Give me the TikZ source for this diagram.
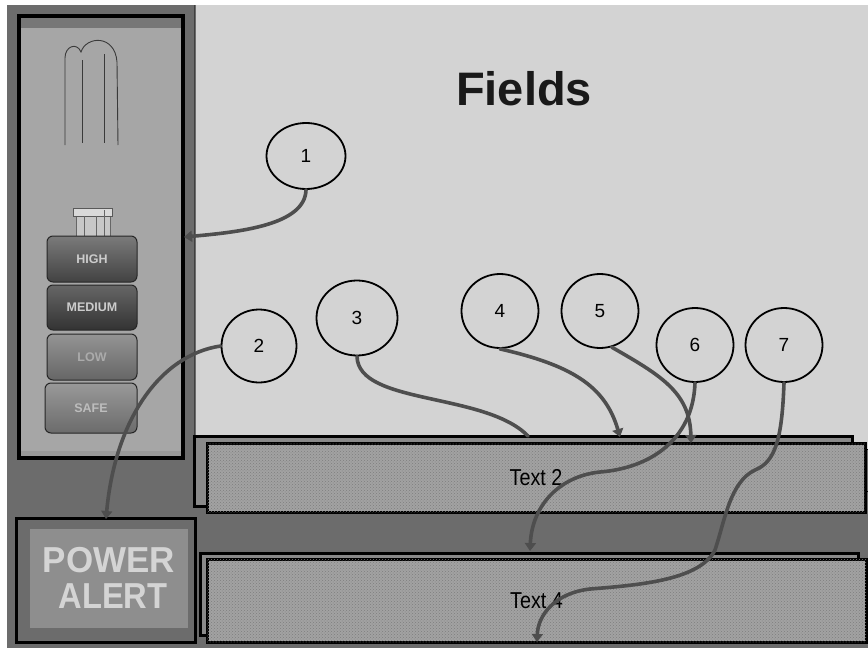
\documentclass[tikz,border=0pt]{standalone}
\usepackage{fontspec}
\setmainfont{Liberation Sans}
\usetikzlibrary{shapes.geometric,arrows.meta,patterns}

\definecolor{bgdark}{HTML}{6C6C6C}
\definecolor{lightbg}{HTML}{D3D3D3}
\definecolor{panelfill}{HTML}{A6A6A6}
\definecolor{panelstrip}{HTML}{777777}
\definecolor{boxback}{HTML}{8A8A8A}
\definecolor{boxfront}{HTML}{A2A2A2}
\definecolor{boxdots}{HTML}{7E7E7E}
\definecolor{connc}{HTML}{4E4E4E}
\definecolor{bulbline}{HTML}{3A3A3A}
\definecolor{alertfill}{HTML}{8E8E8E}

\tikzset{
  bubble/.style={ellipse, draw=black, line width=1.8pt, fill=lightbg,
    minimum width=77pt, minimum height=74pt, inner sep=0pt,
    font=\fontsize{19}{19}\selectfont},
  conn/.style={draw=connc, line width=3.6pt, line cap=round},
  tipped/.style={-{Triangle[length=8pt,width=11pt]}},
  backbox/.style={rectangle, draw=black, line width=3pt, fill=boxback, inner sep=0pt},
  frontbox/.style={rectangle, draw=black, line width=3pt, fill=boxfront,
    postaction={pattern=crosshatch dots, pattern color=boxdots},
    inner sep=0pt, font=\fontsize{23}{23}\selectfont},
  btn/.style={rectangle, draw=black!85, line width=1pt, rounded corners=6pt,
    inner sep=0pt, minimum width=90pt,
    font=\bfseries\fontsize{12.5}{12.5}\selectfont},
}

\begin{document}
\begin{tikzpicture}[x=1pt,y=-1pt]
  \useasboundingbox (0,0) rectangle (868,648);

  % page background and work area
  \fill[white] (0,0) rectangle (868,648);
  \fill[bgdark] (7,5) rectangle (868,648);
  \fill[lightbg] (196,5) rectangle (868,440);
  \fill[lightbg] (850,436) rectangle (868,449);
  \draw[black, line width=1.5pt] (862,449.5) -- (868,449.5);
  \draw[black, line width=1.5pt] (862,491.5) -- (868,491.5);
  \draw[black!75, line width=1.6pt] (194.5,5) -- (194.5,436);

  % left control panel
  \node[rectangle, draw=black, line width=3.5pt, fill=panelfill,
        minimum width=164pt, minimum height=442pt, inner sep=0pt]
        (panel) at (101,237) {};
  \fill[panelstrip] (21,18) rectangle (181,28);
  \fill[black!40] (21,451) rectangle (181,456);

  % bulb tube
  \draw[bulbline, line width=0.9pt]
    (65,145) -- (65,58) .. controls (65,46) and (77,42) .. (81,52)
    .. controls (86,36) and (115,34) .. (117,62) -- (118,145);
  \draw[bulbline, line width=0.9pt] (82,60) -- (82,143);
  \draw[bulbline, line width=0.9pt] (104,54) -- (104,143);
  % bulb base
  \draw[black!60, fill=black!22, line width=0.8pt] (76,214) rectangle (110,236);
  \draw[black!65, fill=black!15, line width=0.9pt] (73,208) rectangle (112,216);
  \draw[black!60, line width=0.8pt] (84,216) -- (84,236) (96,216) -- (96,236) (104,210) -- (104,236);

  % level buttons
  \node[btn, minimum height=46pt, top color=black!52, bottom color=black!74, text=black!20]
        (high) at (92,259) {HIGH};
  \node[btn, minimum height=45pt, top color=black!60, bottom color=black!80, text=black!20]
        (medium) at (92,307.5) {MEDIUM};
  \node[btn, minimum height=46pt, top color=black!42, bottom color=black!60, text=black!33]
        (low) at (92,357) {LOW};
  \node[btn, minimum width=92pt, minimum height=50pt, top color=black!40, bottom color=black!58, text=black!26]
        (safe) at (91,408) {SAFE};

  % alert picture
  \node[rectangle, draw=black, line width=3pt, fill=bgdark,
        minimum width=179pt, minimum height=124pt, inner sep=0pt]
        (alert) at (105.5,580) {};
  \fill[alertfill] (30,529) rectangle (188,628);
  \node[font=\bfseries\fontsize{38}{36}\selectfont, text=black!17, inner sep=0pt,
        align=center] (alertword) at (109,578)
        {\scalebox{0.92}[0.95]{POWER}\\\hspace*{8pt}\scalebox{0.86}[0.95]{ALERT}};

  % title
  \node[font=\bfseries\fontsize{47}{47}\selectfont, text=black!90] (title) at (524,89) {Fields};

  % text fields
  \node[backbox, minimum width=658pt, minimum height=70pt] (box2back) at (523,471) {};
  \node[frontbox, minimum width=658pt, minimum height=69pt] (box2) at (536,477.5) {\scalebox{0.86}[1]{Text 2}};
  \node[backbox, minimum width=658pt, minimum height=82pt] (box4back) at (529,594) {};
  \node[frontbox, minimum width=659pt, minimum height=83pt] (box4) at (536.5,600.5) {\scalebox{0.86}[1]{Text 4}};

  % numbered callouts
  \node[bubble, minimum width=79pt, minimum height=66pt] (c1) at (306,156) {1};
  \node[bubble, minimum width=75pt, minimum height=73pt] (c2) at (259,346) {2};
  \node[bubble, minimum width=81pt, minimum height=75pt] (c3) at (357,318) {3};
  \node[bubble] (c4) at (500,311) {4};
  \node[bubble] (c5) at (600,311) {5};
  \node[bubble] (c6) at (695,345) {6};
  \node[bubble] (c7) at (784,345) {7};

  % connector end points
  \coordinate (e1) at (184,237);
  \coordinate (e2) at (106,519);
  \coordinate (e3) at (528,436);
  \coordinate (e4) at (620,437);
  \coordinate (e5) at (691,443);
  \coordinate (e6) at (530,551);
  \coordinate (e7) at (537,642);

  % connectors
  \draw[conn, tipped] (c1.south) .. controls (305,225) and (240,232) .. (e1);
  \draw[conn, tipped] (c2.west) .. controls (160,355) and (115,420) .. (e2);
  \draw[conn] (c3.south) .. controls (358,405) and (485,392) .. (e3);
  \draw[conn, tipped] (c4.south) .. controls (570,365) and (605,385) .. (e4);
  \draw[conn, tipped] (c5.-72) .. controls (660,375) and (690,392) .. (e5);
  \draw[conn, tipped] (c6.south) .. controls (693,440) and (650,468) .. (600,472)
    .. controls (560,476) and (532,505) .. (e6);
  \draw[conn, tipped] (c7.south) .. controls (782,440) and (775,462) .. (755,470)
    .. controls (730,482) and (725,520) .. (715,550)
    .. controls (700,580) and (640,585) .. (590,589)
    .. controls (555,593) and (538,615) .. (e7);
\end{tikzpicture}
\end{document}
